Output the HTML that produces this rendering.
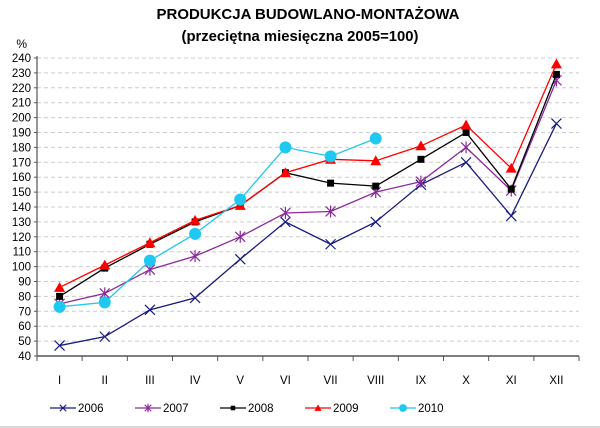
<!DOCTYPE html>
<html><head><meta charset="utf-8"><style>
html,body{margin:0;padding:0;background:#fff;width:600px;height:428px;overflow:hidden}
text{font-family:"Liberation Sans",sans-serif}
</style></head><body>
<svg id="chart" width="600" height="428" xmlns="http://www.w3.org/2000/svg">
<rect x="0" y="0" width="600" height="428" fill="#fff"/>
<line x1="0" y1="427" x2="600" y2="427" stroke="#ccc" stroke-width="1.5"/>
<text x="308" y="19" text-anchor="middle" font-size="15" font-weight="bold" textLength="303" lengthAdjust="spacingAndGlyphs">PRODUKCJA BUDOWLANO-MONTAŻOWA</text>
<text x="300" y="41" text-anchor="middle" font-size="15" font-weight="bold" textLength="237" lengthAdjust="spacingAndGlyphs">(przeciętna miesięczna 2005=100)</text>
<text x="27" y="48" text-anchor="end" font-size="12">%</text>
<g id="grid"></g><g id="axes"></g><g id="series"></g><g id="legend"></g>
</svg>
<script>
const categories=["I","II","III","IV","V","VI","VII","VIII","IX","X","XI","XII"];
const years=["2006","2007","2008","2009","2010"];
const s2006=[47,53,71,79,105,130,115,130,155,170,134,196];
const s2007=[75,82,98,107,120,136,137,150,157,180,151,225];
const s2008=[80,99,115,130,141,163,156,154,172,190,152,229];
const s2009=[86,101,116,131,141,163,172,171,181,195,166,236];
const s2010=[73,76,104,122,145,180,174,186];
const yTicks=[40,50,60,70,80,90,100,110,120,130,140,150,160,170,180,190,200,210,220,230,240];

const NS="http://www.w3.org/2000/svg";
const X0=37,X1=579,Y0=356,Y1=58,YMIN=40,YMAX=240;
const bw=(X1-X0)/categories.length;
const xs=i=>X0+bw*(i+0.5);
const ys=v=>Y0-(v-YMIN)/(YMAX-YMIN)*(Y0-Y1);
function mk(tag,attrs,parent){const e=document.createElementNS(NS,tag);for(const k in attrs)e.setAttribute(k,attrs[k]);parent.appendChild(e);return e;}
const grid=document.getElementById('grid'),axes=document.getElementById('axes'),ser=document.getElementById('series'),leg=document.getElementById('legend');

yTicks.forEach(t=>{
  const y=ys(t);
  if(t>YMIN){const g=mk('line',{x1:X0,x2:X1,y1:y,y2:y,stroke:'#ccc','stroke-dasharray':'4,3','stroke-width':1},grid);
  
  }
  const tk=mk('line',{x1:X0-3,x2:X0,y1:y,y2:y,stroke:'#555'},axes);
  
  
  const l=mk('text',{x:31,y:y+4,'text-anchor':'end','font-size':11.5,fill:'#000'},axes);
  
  
  l.textContent=t;
});
const ya=mk('line',{x1:X0,x2:X0,y1:Y1-2,y2:Y0,stroke:'#555','stroke-width':1.2},axes);


const xa=mk('line',{x1:X0,x2:X1,y1:Y0,y2:Y0,stroke:'#555','stroke-width':1.5},axes);


for(let i=0;i<=categories.length;i++){
  const t=mk('line',{x1:X0+bw*i,x2:X0+bw*i,y1:Y0,y2:Y0+5,stroke:'#555'},axes);
  
  
}
categories.forEach((c,i)=>{
  const l=mk('text',{x:xs(i),y:384,'text-anchor':'middle','font-size':11.5},axes);
  
  
  l.textContent=c;
});

function marker(type,x,y,color,p,small){
  const s=small?0.65:1;
  if(type==='x'){const d=5*s;mk('path',{d:`M${x-d},${y-d}L${x+d},${y+d}M${x-d},${y+d}L${x+d},${y-d}`,stroke:color,'stroke-width':1.2,fill:'none'},p);}
  else if(type==='star'){const d=5*s;mk('path',{d:`M${x-d},${y-d}L${x+d},${y+d}M${x-d},${y+d}L${x+d},${y-d}M${x},${y-d-1}L${x},${y+d+1}`,stroke:color,'stroke-width':1.2,fill:'none'},p);}
  else if(type==='sq'){const d=3.5*s;mk('rect',{x:x-d,y:y-d,width:2*d,height:2*d,fill:color},p);}
  else if(type==='tri'){const d=5.5*s;mk('path',{d:`M${x},${y-d}L${x+d},${y+d*0.8}L${x-d},${y+d*0.8}Z`,fill:color},p);}
  else if(type==='dot'){mk('circle',{cx:x,cy:y,r:6*s,fill:color},p);}
}
const seriesList=[[s2006,'#1a1a80','x'],[s2007,'#8b2a9b','star'],[s2008,'#000','sq'],[s2009,'#f00','tri'],[s2010,'#1ec8f0','dot']];
seriesList.forEach(([vals,color,m],k)=>{
  const g=mk('g',{},ser);
  
  
  const pts=vals.map((v,i)=>xs(i)+','+ys(v)).join(' ');
  mk('polyline',{points:pts,fill:'none',stroke:color,'stroke-width':1.3},g);
  vals.forEach((v,i)=>marker(m,xs(i),ys(v),color,g,false));
});
seriesList.forEach(([vals,color,m],k)=>{
  const g=mk('g',{},leg);
  
  
  const x=50+k*85,y=408;
  mk('line',{x1:x,x2:x+26,y1:y,y2:y,stroke:color,'stroke-width':1.3},g);
  marker(m,x+13,y,color,g,true);
  const t=mk('text',{x:x+28,y:y+4,'font-size':11.5},g);
  t.textContent=years[k];
});
</script>
</body></html>
